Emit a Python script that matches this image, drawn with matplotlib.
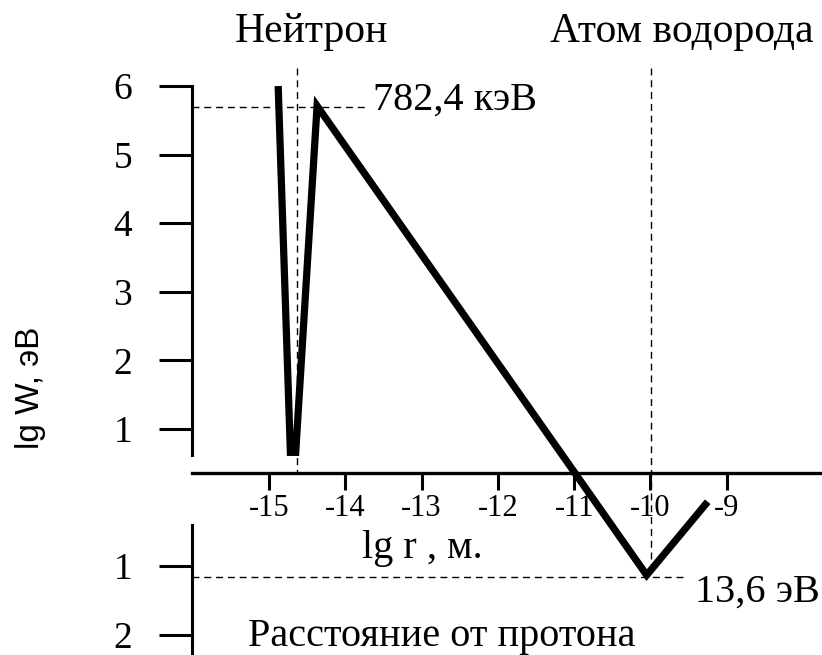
import matplotlib
matplotlib.use("Agg")
import matplotlib.pyplot as plt

# lg r (m) and lg W (eV); below the axis W is bound energy
line_x = [-14.88, -14.72, -14.65, -14.37, -10.05, -9.25]
line_y = [6.0, 0.66, 0.66, 5.71, -1.13, -0.06]

x_ticks = [-15, -14, -13, -12, -11, -10, -9]
x_labels = ["-15", "-14", "-13", "-12", "-11", "-10", "-9"]
y_ticks = [-2, -1, 1, 2, 3, 4, 5, 6]
y_labels = ["2", "1", "1", "2", "3", "4", "5", "6"]

neutron_peak = 5.69      # 782,4 кэВ
neutron_r = -14.63
hydrogen_r = -9.99
hydrogen_min = -1.16     # 13,6 эВ

axis_x = -16.01
axis_y = 0.36

plt.rcParams['font.family'] = ['Liberation Serif', 'DejaVu Serif']

fig = plt.figure(figsize=(8.22, 6.55), dpi=100)
ax = fig.add_axes([0, 0, 1, 1])
ax.set_xlim(-18.526, -7.752)
ax.set_ylim(-2.294, 7.254)
ax.patch.set_alpha(0)

# axes
for s in ['top', 'right']:
    ax.spines[s].set_visible(False)
ax.spines['left'].set_position(('data', axis_x))
ax.spines['left'].set_bounds(0.62, 6.0)
ax.spines['left'].set_linewidth(2.2)
ax.spines['bottom'].set_position(('data', axis_y))
ax.spines['bottom'].set_bounds(axis_x, -7.752)
ax.spines['bottom'].set_linewidth(2.4)
ax.plot([axis_x, axis_x], [-0.40, -2.4], color='black', lw=2.2, clip_on=False)

ax.set_xticks(x_ticks)
ax.set_xticklabels(x_labels, fontsize=22)
ax.set_yticks(y_ticks)
ax.set_yticklabels(y_labels, fontsize=27)
ax.tick_params(axis='x', direction='out', length=12, width=2.2, pad=3)
ax.tick_params(axis='y', direction='out', length=24, width=2.2, pad=19)

# dashed guides
dash = dict(color='black', lw=1.0, ls=(0, (5, 3.5)))
ax.plot([axis_x, -13.70], [neutron_peak, neutron_peak], **dash)
ax.plot([neutron_r, neutron_r], [6.26, axis_y], **dash)
ax.plot([hydrogen_r, hydrogen_r], [6.26, -1.06], **dash)
ax.plot([axis_x, -9.55], [hydrogen_min, hydrogen_min], **dash)

# energy curve
ax.plot(line_x, line_y, color='black', lw=5.2,
        solid_joinstyle='miter', solid_capstyle='butt')

# labels
big = 29
ax.text(-13.64, 5.65, "782,4 кэВ", fontsize=big, va='baseline', ha='left')
ax.text(-9.42, -1.52, "13,6 эВ", fontsize=big, va='baseline', ha='left')
ax.text(-14.45, 6.64, "Нейтрон", fontsize=30, va='baseline', ha='center')
ax.text(-9.59, 6.64, "Атом водорода", fontsize=30, va='baseline', ha='center')
ax.text(-13.78, -0.88, "lg r , м.", fontsize=big, va='baseline', ha='left')
ax.text(-15.28, -2.16, "Расстояние от протона", fontsize=big, va='baseline', ha='left')
fig.text(30 / 822, 1 - 388 / 655, "lg W, эВ", rotation=90, fontsize=24,
         family=['Liberation Sans', 'DejaVu Sans'], ha='center', va='center')

fig.savefig("out.png", dpi=100)
